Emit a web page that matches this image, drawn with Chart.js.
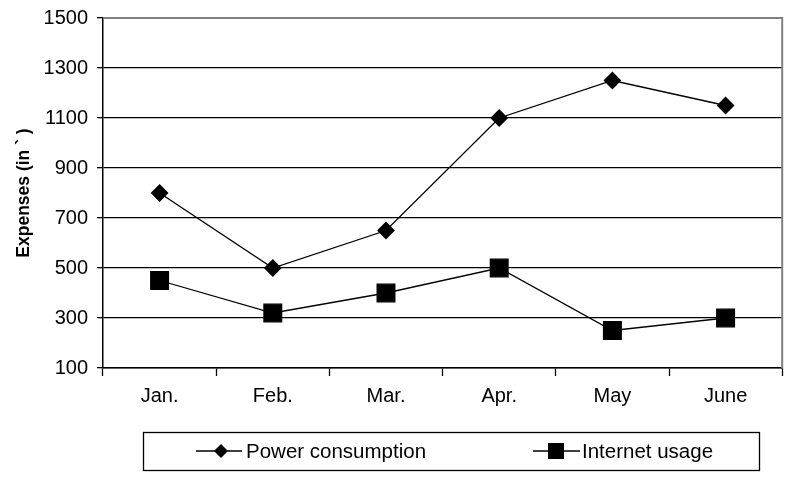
<!DOCTYPE html>
<html>
<head>
<meta charset="utf-8">
<script src="https://cdn.jsdelivr.net/npm/chart.js@4/dist/chart.umd.min.js"></script>
<style>
  html, body { margin: 0; padding: 0; background: #fff; overflow: hidden; }
  #wrap { width: 796px; height: 479px; }
</style>
</head>
<body>
<div id="wrap"><canvas id="grafik"></canvas></div>
<script>
// data
const bulan = ['Jan.', 'Feb.', 'Mar.', 'Apr.', 'May', 'June'];
const dayaListrik = [800, 500, 650, 1100, 1250, 1150];
const internet = [450, 320, 400, 500, 250, 300];
const labelSeri = ['Power consumption', 'Internet usage'];
const tickY = [100, 300, 500, 700, 900, 1100, 1300, 1500];

// legenda kotak di bawah, digambar manual
const legendaBawah = {
    id: 'legendaBawah',
    afterDraw(chart) {
        const ctx = chart.ctx;
        const ca = chart.chartArea;
        ctx.save();
        // garis tepi abu-abu atas & kanan area plot
        ctx.strokeStyle = '#808080';
        ctx.lineWidth = 2;
        ctx.beginPath();
        ctx.moveTo(ca.left, ca.top);
        ctx.lineTo(ca.right, ca.top);
        ctx.lineTo(ca.right, ca.bottom);
        ctx.stroke();

        ctx.strokeStyle = '#000';
        ctx.lineWidth = 1.3;
        ctx.strokeRect(143.5, 432.5, 616, 38);

        const yc = 451;
        ctx.font = '20.5px "Liberation Sans", Arial, sans-serif';
        ctx.fillStyle = '#000';
        ctx.textBaseline = 'middle';
        ctx.textAlign = 'left';

        ctx.lineWidth = 1.6;
        // seri 1: belah ketupat
        ctx.beginPath();
        ctx.moveTo(196, yc); ctx.lineTo(242, yc); ctx.stroke();
        ctx.beginPath();
        ctx.moveTo(221 - 7, yc); ctx.lineTo(221, yc - 7);
        ctx.lineTo(221 + 7, yc); ctx.lineTo(221, yc + 7);
        ctx.closePath(); ctx.fill();
        ctx.fillText(labelSeri[0], 246, yc + 1);

        // seri 2: kotak
        ctx.beginPath();
        ctx.moveTo(533, yc); ctx.lineTo(580, yc); ctx.stroke();
        ctx.fillRect(556 - 8, yc - 8, 16, 16);
        ctx.fillText(labelSeri[1], 582, yc + 1);
        ctx.restore();
    }
};

const fontUtama = { family: '"Liberation Sans", Arial, sans-serif', size: 20 };

new Chart(document.getElementById('grafik'), {
    type: 'line',
    data: {
        labels: bulan,
        datasets: [
            {
                label: labelSeri[0],
                data: dayaListrik,
                borderColor: '#000',
                backgroundColor: '#000',
                borderWidth: 1.3,
                pointStyle: 'rectRot',
                pointRadius: 8,
                pointHoverRadius: 8,
                tension: 0
            },
            {
                label: labelSeri[1],
                data: internet,
                borderColor: '#000',
                backgroundColor: '#000',
                borderWidth: 1.3,
                pointStyle: 'rect',
                pointRadius: 12.5,
                pointHoverRadius: 12.5,
                tension: 0
            }
        ]
    },
    options: {
        responsive: true,
        maintainAspectRatio: false,
        animation: false,
        layout: { padding: { top: 18, right: 10, left: 0, bottom: 0 } },
        plugins: {
            legend: { display: false },
            tooltip: { enabled: false }
        },
        scales: {
            x: {
                offset: true,
                afterFit: s => { s.height = 111; s.paddingLeft = 0; s.paddingRight = 0; },
                grid: { offset: true, drawOnChartArea: false, drawTicks: true, tickLength: 8, tickColor: '#000', tickWidth: 1.3 },
                border: { color: '#000', width: 1.5 },
                ticks: { color: '#000', font: fontUtama, padding: 8, maxRotation: 0 }
            },
            y: {
                min: 100,
                max: 1500,
                afterFit: s => { s.width = 103; s.paddingTop = 0; s.paddingBottom = 0; },
                afterBuildTicks: s => { s.ticks = tickY.map(v => ({ value: v })); },
                grid: {
                    color: c => (c.tick && c.tick.value === 1500) ? 'rgba(0,0,0,0)' : '#000',
                    lineWidth: 1.3,
                    tickLength: 6,
                    tickColor: '#000',
                    tickWidth: 1.3
                },
                border: { color: '#000', width: 1.5 },
                ticks: { color: '#000', font: fontUtama, padding: 9, callback: v => String(v) },
                title: {
                    display: true,
                    text: 'Expenses (in ` )',
                    color: '#000',
                    font: { family: '"Liberation Sans", Arial, sans-serif', size: 17.5, weight: 'bold' },
                    padding: { top: 14, bottom: 0 }
                }
            }
        }
    },
    plugins: [legendaBawah]
});
</script>
</body>
</html>
